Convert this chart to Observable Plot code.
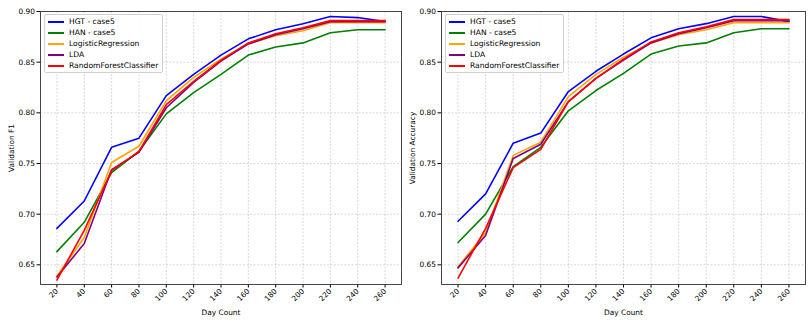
<!DOCTYPE html>
<html>
<head>
<meta charset="utf-8">
<script src="https://cdn.jsdelivr.net/npm/d3@7"></script>
<script src="https://cdn.jsdelivr.net/npm/@observablehq/plot@0.6"></script>
<style>
  html, body { margin: 0; padding: 0; background: #fff; }
  #wrap { position: relative; width: 810px; height: 324px; font-family: "DejaVu Sans", sans-serif; }
  .panel { position: absolute; top: 0; }
  .legend { position: absolute; background: rgba(255,255,255,0.85); border: 1px solid #d0d0d0; border-radius: 2px; padding: 1px 4px 1px 3px; font-size: 7.6px; color: #000; }
  .legend .row { display: flex; align-items: center; height: 11px; white-space: nowrap; }
  .legend .sw { width: 16px; height: 2px; margin-right: 5px; }
</style>
</head>
<body>
<div id="wrap"></div>
<script>
const days = [20, 40, 60, 80, 100, 120, 140, 160, 180, 200, 220, 240, 260];
const seriesNames = ["HGT - case5", "HAN - case5", "LogisticRegression", "LDA", "RandomForestClassifier"];
const seriesColors = ["blue", "green", "orange", "purple", "red"];
const yTicks = [0.65, 0.70, 0.75, 0.80, 0.85, 0.90];

// Validation F1
const hgtF1 = [0.686, 0.713, 0.766, 0.775, 0.817, 0.838, 0.857, 0.873, 0.882, 0.888, 0.895, 0.894, 0.890];
const hanF1 = [0.663, 0.692, 0.741, 0.762, 0.799, 0.820, 0.838, 0.857, 0.865, 0.869, 0.879, 0.882, 0.882];
const lrF1  = [0.639, 0.677, 0.751, 0.767, 0.812, 0.835, 0.853, 0.868, 0.876, 0.881, 0.889, 0.889, 0.889];
const ldaF1 = [0.638, 0.671, 0.744, 0.761, 0.805, 0.830, 0.851, 0.868, 0.877, 0.883, 0.890, 0.890, 0.890];
const rfF1  = [0.635, 0.684, 0.743, 0.762, 0.808, 0.831, 0.852, 0.869, 0.878, 0.884, 0.891, 0.891, 0.891];

// Validation Accuracy
const hgtAcc = [0.693, 0.720, 0.770, 0.780, 0.821, 0.841, 0.858, 0.874, 0.883, 0.888, 0.895, 0.895, 0.890];
const hanAcc = [0.672, 0.700, 0.747, 0.766, 0.802, 0.822, 0.839, 0.858, 0.866, 0.869, 0.879, 0.883, 0.883];
const lrAcc  = [0.648, 0.682, 0.758, 0.771, 0.816, 0.838, 0.855, 0.869, 0.877, 0.882, 0.889, 0.889, 0.889];
const ldaAcc = [0.647, 0.679, 0.755, 0.769, 0.811, 0.834, 0.852, 0.869, 0.878, 0.884, 0.891, 0.891, 0.891];
const rfAcc  = [0.637, 0.686, 0.746, 0.764, 0.811, 0.834, 0.853, 0.870, 0.879, 0.885, 0.892, 0.892, 0.892];

function toRows(arrays) {
  const rows = [];
  arrays.forEach((arr, si) => arr.forEach((v, i) => rows.push({day: days[i], value: v, series: seriesNames[si]})));
  return rows;
}

function makePanel(rows, ylabel, left, marginLeft, marginRight) {
  const chart = Plot.plot({
    width: 405,
    height: 324,
    marginLeft, marginRight,
    marginTop: 11,
    marginBottom: 40,
    style: {fontFamily: "DejaVu Sans, sans-serif", fontSize: "7.4px", color: "#000", background: "#fff"},
    x: {domain: [8, 272]},
    y: {domain: [0.6306, 0.90]},
    color: {domain: seriesNames, range: seriesColors},
    marks: [
      Plot.gridX(days, {stroke: "#b0b0b0", strokeOpacity: 0.7, strokeDasharray: "2,1.5", strokeWidth: 0.7}),
      Plot.gridY(yTicks, {stroke: "#b0b0b0", strokeOpacity: 0.7, strokeDasharray: "2,1.5", strokeWidth: 0.7}),
      Plot.axisX(days, {tickRotate: -45, tickSize: 3.5, tickPadding: 2, label: "Day Count", labelAnchor: "center", labelArrow: "none", labelOffset: 30, textAnchor: "end"}),
      Plot.axisY(yTicks, {tickFormat: d3.format(".2f"), tickSize: 3.5, tickPadding: 2, label: ylabel, labelAnchor: "center", labelArrow: "none", labelOffset: 32}),
      ...seriesNames.map(name => Plot.line(rows.filter(r => r.series === name), {x: "day", y: "value", stroke: "series", strokeWidth: 1.6})),
      Plot.frame({stroke: "#333", strokeWidth: 0.9})
    ]
  });
  const div = document.createElement("div");
  div.className = "panel";
  div.style.left = left + "px";
  div.appendChild(chart);
  document.getElementById("wrap").appendChild(div);
}

function makeLegend(left, top) {
  const lg = document.createElement("div");
  lg.className = "legend";
  lg.style.left = left + "px";
  lg.style.top = top + "px";
  seriesNames.forEach((n, i) => {
    const row = document.createElement("div");
    row.className = "row";
    const sw = document.createElement("div");
    sw.className = "sw";
    sw.style.background = seriesColors[i];
    const tx = document.createElement("span");
    tx.textContent = n;
    row.appendChild(sw);
    row.appendChild(tx);
    lg.appendChild(row);
  });
  document.getElementById("wrap").appendChild(lg);
}

makePanel(toRows([hgtF1, hanF1, lrF1, ldaF1, rfF1]), "Validation F1", 0, 40, 4);
makePanel(toRows([hgtAcc, hanAcc, lrAcc, ldaAcc, rfAcc]), "Validation Accuracy", 405, 36, 5);
makeLegend(44, 14);
makeLegend(445, 14);
</script>
</body>
</html>
